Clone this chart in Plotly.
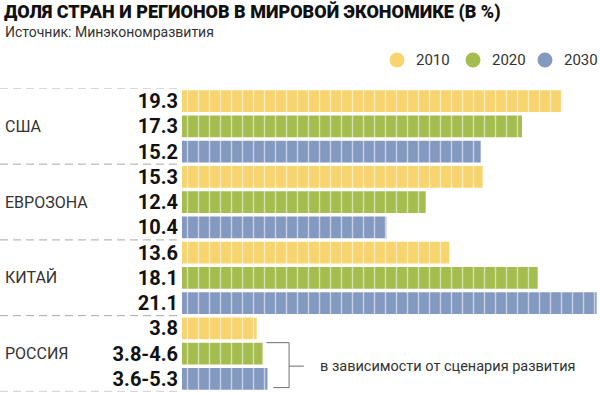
import plotly.graph_objects as go

# ---------------- data ----------------
groups = ["США", "ЕВРОЗОНА", "КИТАЙ", "РОССИЯ"]
years = ["2010", "2020", "2030"]
values_2010 = [19.3, 15.3, 13.6, 3.8]
values_2020 = [17.3, 12.4, 18.1, 4.1]    # Russia: drawn length of range 3.8-4.6
values_2030 = [15.2, 10.4, 21.1, 4.35]   # Russia: drawn length of range 3.6-5.3
labels_2010 = ["19.3", "15.3", "13.6", "3.8"]
labels_2020 = ["17.3", "12.4", "18.1", "3.8-4.6"]
labels_2030 = ["15.2", "10.4", "21.1", "3.6-5.3"]
colors = ["#F8D46E", "#A5BC4E", "#8499C0"]
note_text = "в зависимости от сценария развития"
title_text = "ДОЛЯ СТРАН И РЕГИОНОВ В МИРОВОЙ ЭКОНОМИКЕ (В %)"
source_text = "Источник: Минэкономразвития"

series_values = [values_2010, values_2020, values_2030]
series_labels = [labels_2010, labels_2020, labels_2030]

W, H = 600, 393
n_years = len(years)
n_rows = len(groups) * n_years

fig = go.Figure()

tickvals, ticktext = [], []
for k, (yr, vals, labs, col) in enumerate(zip(years, series_values, series_labels, colors)):
    ys = [g * n_years + k for g in range(len(groups))]
    tickvals += ys
    ticktext += labs
    fig.add_trace(go.Bar(
        x=vals, y=ys, orientation="h", width=0.86, name=yr,
        marker=dict(color=col, line=dict(width=0),
                    pattern=dict(shape="|", size=11, solidity=0.13,
                                 fgcolor="white", fgopacity=0.55)),
        showlegend=False, hoverinfo="skip",
    ))

# custom legend (circles + labels) in the top-right corner
legend_px = [397, 473, 545]
legend_y = 1 - 60 / H
for xpx, yr, col in zip(legend_px, years, colors):
    fig.add_shape(type="circle", xref="paper", yref="paper",
                  xsizemode="pixel", ysizemode="pixel",
                  xanchor=xpx / W, yanchor=legend_y, x0=-7.5, x1=7.5, y0=-7.5, y1=7.5,
                  fillcolor=col, line=dict(width=0))
    fig.add_annotation(xref="paper", yref="paper", x=(xpx + 17) / W, y=legend_y,
                       text=yr, showarrow=False, xanchor="left", yanchor="middle",
                       font=dict(family="Roboto", size=15, color="#333333"))

# group separators (dashed) and group labels
for g, name in enumerate(groups):
    fig.add_shape(type="line", xref="paper", yref="y", x0=0, x1=177 / W,
                  y0=g * n_years - 0.5, y1=g * n_years - 0.5,
                  line=dict(color="#A8A8A8", width=1, dash="8px,5px"))
    fig.add_annotation(xref="paper", yref="y", x=3 / W, y=g * n_years + 1,
                       text=name, showarrow=False, xanchor="left",
                       font=dict(family="Roboto", size=16, color="#333333"))
fig.add_shape(type="line", xref="paper", yref="y", x0=0, x1=177 / W,
              y0=n_rows - 0.5, y1=n_rows - 0.5,
              line=dict(color="#A8A8A8", width=1, dash="8px,5px"))

# bracket for Russia scenarios
r2020 = (len(groups) - 1) * n_years + 1
r2030 = r2020 + 1
brc = "#6E6E6E"
bxv = values_2020[-1] + 1.35
fig.add_shape(type="line", xref="x", yref="y", x0=values_2020[-1] + 0.2, x1=bxv,
              y0=r2020 - 0.43, y1=r2020 - 0.43, line=dict(color=brc, width=1))
fig.add_shape(type="line", xref="x", yref="y", x0=values_2030[-1] + 0.3, x1=bxv,
              y0=r2030 + 0.35, y1=r2030 + 0.35, line=dict(color=brc, width=1))
fig.add_shape(type="line", xref="x", yref="y", x0=bxv, x1=bxv,
              y0=r2020 - 0.43, y1=r2030 + 0.35, line=dict(color=brc, width=1))
fig.add_shape(type="line", xref="x", yref="y", x0=bxv, x1=bxv + 0.75,
              y0=(r2020 + r2030) / 2, y1=(r2020 + r2030) / 2, line=dict(color=brc, width=1))
fig.add_annotation(xref="x", yref="y", x=bxv + 1.45, y=(r2020 + r2030) / 2,
                   text=note_text, showarrow=False, xanchor="left",
                   font=dict(family="Roboto", size=14.5, color="#333333"))

# title and source
fig.add_annotation(xref="paper", yref="paper", x=2 / W, y=1 - 12 / H, text=title_text,
                   showarrow=False, xanchor="left", yanchor="middle",
                   font=dict(family="Roboto", size=18, color="#111111", weight=900))
fig.add_annotation(xref="paper", yref="paper", x=3 / W, y=1 - 32 / H, text=source_text,
                   showarrow=False, xanchor="left", yanchor="middle",
                   font=dict(family="Roboto", size=14, color="#333333"))

px_per_unit = 19.65
plot_w = W - 182
fig.update_layout(
    width=W, height=H,
    margin=dict(l=0, r=0, t=0, b=0),
    paper_bgcolor="white", plot_bgcolor="white",
    barmode="overlay",
    showlegend=False,
    xaxis=dict(domain=[182 / W, 1], range=[0, plot_w / px_per_unit], visible=False,
               showgrid=False, zeroline=False),
    yaxis=dict(domain=[1.6 / H, 1 - 88.4 / H], range=[n_rows - 0.5, -0.5],
               tickvals=tickvals, ticktext=ticktext, ticks="", showgrid=False,
               zeroline=False, showline=False, ticklabelstandoff=3,
               tickfont=dict(family="Roboto", size=20, color="#111111", weight="bold")),
)

fig.write_html("out.html", config={"displayModeBar": False},
               post_script="document.body.style.margin='0';document.body.style.overflow='hidden';")
